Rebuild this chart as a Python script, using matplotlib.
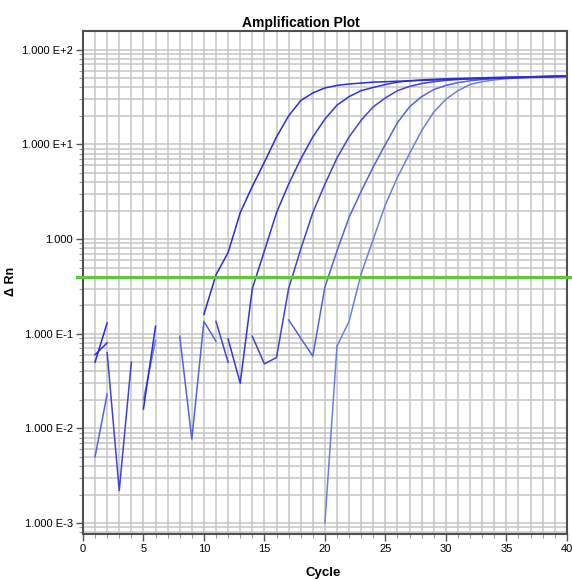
import matplotlib
matplotlib.use('Agg')
import matplotlib.pyplot as plt
from matplotlib.ticker import FixedLocator, LogLocator, FuncFormatter, MultipleLocator
import numpy as np

plt.rcParams['font.family'] = ['Liberation Sans', 'DejaVu Sans']

nan = np.nan
cycles = list(range(1, 41))

# delta Rn per well (nan = negative value, not drawn on log axis)
well_a = [0.05, 0.13, nan, nan, 0.016, 0.12, nan, nan, nan, 0.16,
          0.42, 0.72, 1.9, 3.6, 6.5, 12, 20, 29, 35, 39.5,
          42, 43.5, 44.5, 45.5, 46, 46.5, 47, 47.5, 48, 48.5,
          49, 49.3, 49.6, 50, 50.3, 50.6, 51, 51.3, 51.6, 52]
well_b = [0.06, 0.08, nan, nan, nan, nan, nan, nan, nan, nan,
          nan, 0.088, 0.030, 0.30, 0.75, 1.9, 3.8, 7.0, 12, 18.5,
          26, 32, 37, 40, 43, 45.5, 47, 48, 48.7, 49.3,
          49.8, 50.2, 50.6, 51, 51.3, 51.6, 51.9, 52.2, 52.5, 52.8]
well_c = [nan, 0.063, 0.0022, 0.05, nan, nan, nan, nan, nan, nan,
          0.135, 0.05, nan, 0.094, 0.048, 0.056, 0.30, 0.78, 1.9, 3.8,
          7.2, 12, 18, 25, 31, 37, 41, 44, 46, 47.5,
          48.5, 49.3, 50, 50.5, 51, 51.4, 51.8, 52.2, 52.6, 53]
well_d = [0.005, 0.023, nan, nan, nan, nan, nan, 0.094, 0.0077, 0.135,
          0.083, nan, nan, nan, nan, nan, 0.14, 0.09, 0.058, 0.31,
          0.75, 1.7, 3.2, 5.8, 10, 17, 25, 32, 38, 42,
          45, 47, 48.5, 49.5, 50.3, 51, 51.5, 52, 52.5, 53]
well_e = [nan, nan, nan, nan, 0.02, 0.085, nan, nan, nan, nan,
          nan, nan, nan, nan, nan, nan, nan, nan, nan, 0.001,
          0.074, 0.135, 0.43, 1.0, 2.3, 4.5, 8, 14, 22, 30,
          37, 43, 46, 48, 49.5, 50.5, 51.3, 52, 52.6, 53.2]
wells = [well_e, well_d, well_c, well_b, well_a]
well_colors = ['#6a80dd', '#5562d8', '#4242d2', '#3434d8', '#2a2ad8']
threshold = 0.4

fig = plt.figure(figsize=(5.72, 5.8), dpi=100)
ax = fig.add_axes([0.145, 0.0793, 0.846, 0.8673])

for vals, col in zip(wells, well_colors):
    ax.plot(cycles, vals, color=col, linewidth=1.1)

ax.axhline(threshold, xmin=-0.012, xmax=1.02, color='#5fc83a', linewidth=2.3, clip_on=False, zorder=5)

ax.set_yscale('log')
ax.set_xlim(0, 40)
ax.set_ylim(7.65e-4, 158)

ax.xaxis.set_major_locator(MultipleLocator(5))
ax.xaxis.set_minor_locator(MultipleLocator(1))
ax.yaxis.set_major_locator(FixedLocator([1e-3, 1e-2, 1e-1, 1, 10, 100]))
ax.yaxis.set_minor_locator(LogLocator(base=10, subs=np.arange(2, 10)))
ax.yaxis.set_minor_formatter(FuncFormatter(lambda v, p: ''))


def fmt(v, pos):
    e = int(round(np.log10(v)))
    if e == 0:
        return '1.000'
    return '1.000 E%+d' % e


ax.yaxis.set_major_formatter(FuncFormatter(fmt))

ax.grid(which='both', color='#c6c6c6', linewidth=1.1)
ax.set_axisbelow(True)
ax.tick_params(which='major', length=5, width=1, color='#555555', labelsize=8, pad=2)
ax.tick_params(which='minor', length=3, width=0.8, color='#999999')

for s in ax.spines.values():
    s.set_color('#505050')
    s.set_linewidth(1.5)

fig.text(0.526, 0.96, 'Amplification Plot', ha='center', va='center', fontsize=10, fontweight='bold')
fig.text(0.565, 0.012, 'Cycle', ha='center', va='center', fontsize=9.5, fontweight='bold')
fig.text(0.02, 0.514, '\u0394 Rn', ha='center', va='center', rotation=90, fontsize=9, fontweight='bold')

plt.savefig('out.png', dpi=100)
plt.close()
